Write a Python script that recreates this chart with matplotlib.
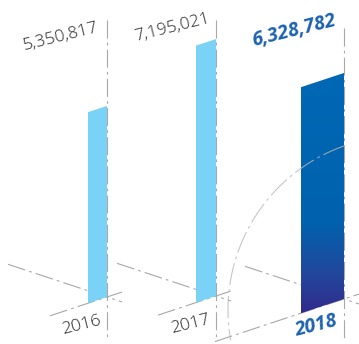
import matplotlib
matplotlib.use("Agg")
import matplotlib.pyplot as plt
import numpy as np
from matplotlib.colors import LinearSegmentedColormap
from matplotlib.patches import Polygon

plt.rcParams["lines.scale_dashes"] = False

years = ["2016", "2017", "2018"]
values = [5350817, 7195021, 6328782]
value_labels = ["5,350,817", "7,195,021", "6,328,782"]

# layout in pixel space (y grows downward)
W, H = 359, 344
SLOPE = 0.33
PX_PER_UNIT = 1 / 28000
base_x = [107, 216, 344]
base_y = [297, 296, 299]
bar_w = [19, 20, 43]
back_len = [57, 58, 129]
guide_top = [20, 20, 28]
light_blue = "#7AD2F6"
accent = "#1D62AF"
guide = "#a8a8a8"
dashdot = (0, (13, 3, 2, 3))

fig = plt.figure(figsize=(W / 100, H / 100), dpi=100)
ax = fig.add_axes([0, 0, 1, 1])
ax.set_xlim(0, W)
ax.set_ylim(H, 0)
ax.axis("off")

for i, (v, px, py, w) in enumerate(zip(values, base_x, base_y, bar_w)):
    # floor guides crossing at the bar's front corner
    ax.plot([px - 99, px + 15], [py - 99 * SLOPE, py + 15 * SLOPE],
            color=guide, lw=0.8, ls=dashdot, zorder=1)
    lb = back_len[i]
    ax.plot([px - lb, px + 15], [py + lb * SLOPE, py - 15 * SLOPE],
            color=guide, lw=0.8, ls=dashdot, zorder=1)
    ax.plot([px, px], [guide_top[i], 340], color=guide, lw=0.8, ls=dashdot, zorder=1)

    h = v * PX_PER_UNIT
    pts = [(px, py), (px - w, py + w * SLOPE),
           (px - w, py + w * SLOPE - h), (px, py - h)]
    if i < 2:
        ax.add_patch(Polygon(pts, closed=True, fc=light_blue, ec="none", zorder=2))
    else:
        poly = Polygon(pts, closed=True, fc="none", ec="none", zorder=2)
        ax.add_patch(poly)
        cmap = LinearSegmentedColormap.from_list(
            "bar", [(0, "#0068B5"), (0.62, "#0062AE"), (0.84, "#22479C"), (1, "#312A8C")])
        grad = np.linspace(0, 1, 256).reshape(-1, 1)
        im = ax.imshow(grad, cmap=cmap, aspect="auto", zorder=2,
                       extent=[px - w, px, py + w * SLOPE, py - h])
        im.set_clip_path(poly)

# sweeping arc behind the latest year
t = np.radians(np.linspace(109.5, 190, 200))
ax.plot(402 + 174 * np.cos(t), 310 - 174 * np.sin(t),
        color="#b8b8b8", lw=0.8, ls=(0, (16, 3, 2, 3)), zorder=3, alpha=0.8)
ax.set_xlim(0, W)
ax.set_ylim(H, 0)

font = ["Open Sans", "DejaVu Sans"]
num_pos = [(61, 37), (172, 28), (294, 31)]
year_pos = [(81, 325), (190, 324), (316, 326)]
for i in range(3):
    bold = i == 2
    style = dict(color=accent if bold else "#262626",
                 fontweight="bold" if bold else "light",
                 fontstyle="italic" if bold else "normal",
                 family=font, rotation=14, ha="center", va="center",
                 rotation_mode="anchor", zorder=4)
    ax.text(*num_pos[i], value_labels[i], fontsize=14 if bold else 12.5, **style)
    ax.text(*year_pos[i], years[i], fontsize=14 if bold else 12.5, **style)

fig.savefig("out.png", dpi=100)
